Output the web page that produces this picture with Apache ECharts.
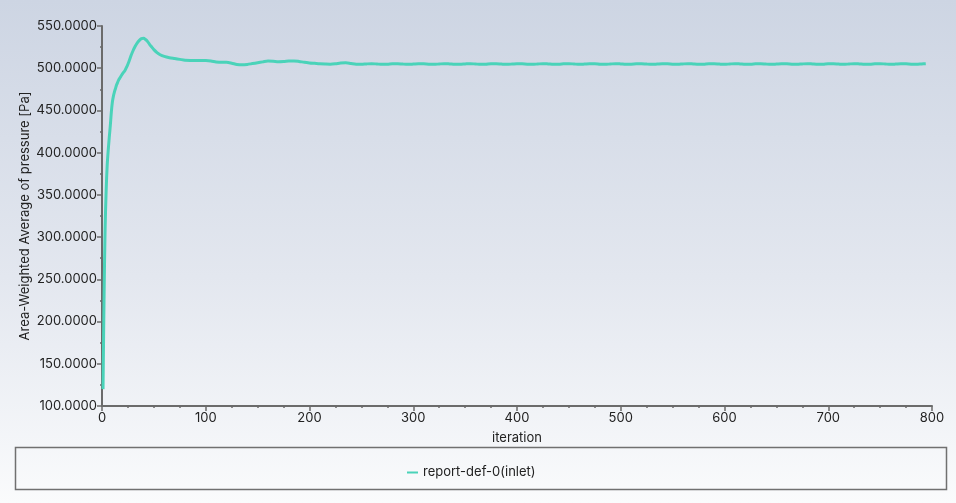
<!DOCTYPE html>
<html>
<head>
<meta charset="utf-8">
<script src="https://cdn.jsdelivr.net/npm/echarts@6/dist/echarts.min.js"></script>
<style>
  html, body { margin: 0; padding: 0; }
  #chart { width: 956px; height: 503px; background: linear-gradient(to bottom, #cdd5e3 0%, #e3e7ef 55%, #fafbfc 100%); }
</style>
</head>
<body>
<div id="chart"></div>
<script>
const seriesName = 'report-def-0(inlet)';
const xAxisTitle = 'iteration';
const yAxisTitle = 'Area-Weighted Average of pressure [Pa]';

const iterations = [
  1, 2, 3, 4, 5, 6, 7, 8, 9, 10, 11, 12, 13, 14, 15, 16, 17, 18, 19, 20,
  22, 24, 26, 28, 30, 32, 34, 36, 38, 40, 42, 44, 46, 48, 50, 53, 56, 60, 65, 70,
  75, 80, 90, 100, 105, 110, 115, 120, 125, 130, 135, 140, 145, 150, 155, 160, 165, 170, 175, 180,
  185, 190, 195, 200, 205, 210, 215, 220, 225, 230, 235, 240, 245, 250,
  255, 260, 265, 270, 275, 280, 285, 290, 295, 300, 305, 310, 315, 320, 325, 330, 335, 340, 345, 350,
  355, 360, 365, 370, 375, 380, 385, 390, 395, 400, 405, 410, 415, 420, 425, 430, 435, 440, 445, 450,
  455, 460, 465, 470, 475, 480, 485, 490, 495, 500, 505, 510, 515, 520, 525, 530, 535, 540, 545, 550,
  555, 560, 565, 570, 575, 580, 585, 590, 595, 600, 605, 610, 615, 620, 625, 630, 635, 640, 645, 650,
  655, 660, 665, 670, 675, 680, 685, 690, 695, 700, 705, 710, 715, 720, 725, 730, 735, 740, 745, 750,
  755, 760, 765, 770, 775, 780, 785, 790, 794
];

const pressure = [
  120, 230, 310, 355, 385, 403, 418, 432, 448, 460, 467, 472, 476, 480, 483, 486, 488, 490, 492, 494,
  497, 502, 508, 515, 521, 526, 530, 533, 535, 535.5, 534, 531.5, 528, 525, 522, 518.5, 516, 514, 512.5, 511.5,
  510.5, 509.5, 509, 509, 508.5, 507.5, 507, 507, 506, 504.5, 504, 504.5, 505.5, 506.5, 507.5, 508.5, 508.3, 507.8, 508, 508.5,
  508.7, 508, 507, 506.3, 505.8, 505.3, 505, 504.8, 505.3, 506.2, 506.4, 505.6, 504.8, 504.6,
  505.1, 505.4, 505.0, 504.6, 504.8, 505.3, 505.4, 504.9, 504.6, 504.9, 505.3, 505.2, 504.8, 504.6, 505.0, 505.4, 505.1, 504.7, 504.7, 505.1,
  505.4, 505.0, 504.6, 504.8, 505.3, 505.3, 504.9, 504.6, 504.9, 505.4, 505.2, 504.8, 504.6, 505.0, 505.4, 505.1, 504.7, 504.7, 505.2, 505.4,
  505.0, 504.6, 504.9, 505.3, 505.3, 504.8, 504.6, 505.0, 505.4, 505.1, 504.7, 504.8, 505.2, 505.4, 504.9, 504.6, 504.9, 505.3, 505.2, 504.8,
  504.6, 505.1, 505.4, 505.0, 504.7, 504.8, 505.3, 505.3, 504.9, 504.6, 505.0, 505.4, 505.1, 504.7, 504.7, 505.2, 505.4, 504.9, 504.6, 504.9,
  505.3, 505.2, 504.8, 504.6, 505.1, 505.4, 505.0, 504.7, 504.8, 505.3, 505.3, 504.9, 504.6, 505.0, 505.4, 505.1, 504.7, 504.7, 505.2, 505.4,
  505.0, 504.6, 504.9, 505.3, 505.2, 504.8, 504.7, 505.1, 505.4
];

const chart = echarts.init(document.getElementById('chart'), null, { renderer: 'canvas' });

const lineColor = '#4ad3b9';
const axisColor = '#6b6b6b';
const fontFamily = 'Inter, Roboto, "DejaVu Sans", sans-serif';

chart.setOption({
  backgroundColor: 'transparent',
  animation: false,
  textStyle: { fontFamily: fontFamily },
  grid: { left: 102, right: 24, top: 26, bottom: 97, containLabel: false },
  legend: {
    data: [{ name: seriesName, icon: 'rect' }],
    left: 402,
    top: 461,
    itemWidth: 11,
    itemHeight: 2,
    itemGap: 5,
    textStyle: { fontSize: 13, color: '#222', fontFamily: fontFamily }
  },
  graphic: [{
    type: 'rect',
    shape: { x: 15.5, y: 447.5, width: 931, height: 42 },
    style: { fill: 'transparent', stroke: '#707070', lineWidth: 1.5 },
    silent: true,
    z: -1
  }],
  xAxis: {
    type: 'value',
    min: 0,
    max: 800,
    interval: 100,
    name: xAxisTitle,
    nameLocation: 'middle',
    nameGap: 26,
    nameMoveOverlap: false,
    nameTextStyle: { fontSize: 13, color: '#222' },
    axisLine: { show: true, lineStyle: { color: axisColor, width: 2 } },
    axisTick: { show: true, length: 5, lineStyle: { color: axisColor, width: 1.5 } },
    minorTick: { show: true, splitNumber: 4, length: 2, lineStyle: { color: axisColor, width: 1.5 } },
    axisLabel: { fontSize: 13, color: '#222', margin: 6 },
    splitLine: { show: false }
  },
  yAxis: {
    type: 'value',
    min: 100,
    max: 550,
    interval: 50,
    name: yAxisTitle,
    nameLocation: 'middle',
    nameGap: 70,
    nameMoveOverlap: false,
    nameTextStyle: { fontSize: 13, color: '#222' },
    axisLine: { show: true, lineStyle: { color: axisColor, width: 2 } },
    axisTick: { show: true, length: 5, lineStyle: { color: axisColor, width: 1.5 } },
    minorTick: { show: true, splitNumber: 2, length: 2, lineStyle: { color: axisColor, width: 1.5 } },
    axisLabel: {
      fontSize: 13, color: '#222', margin: 5,
      formatter: function (v) { return v.toFixed(4); }
    },
    splitLine: { show: false }
  },
  series: [{
    name: seriesName,
    type: 'line',
    data: iterations.map(function (it, i) { return [it, pressure[i]]; }),
    showSymbol: false,
    smooth: 0.3,
    lineStyle: { color: lineColor, width: 3 },
    itemStyle: { color: lineColor }
  }]
});
</script>
</body>
</html>
